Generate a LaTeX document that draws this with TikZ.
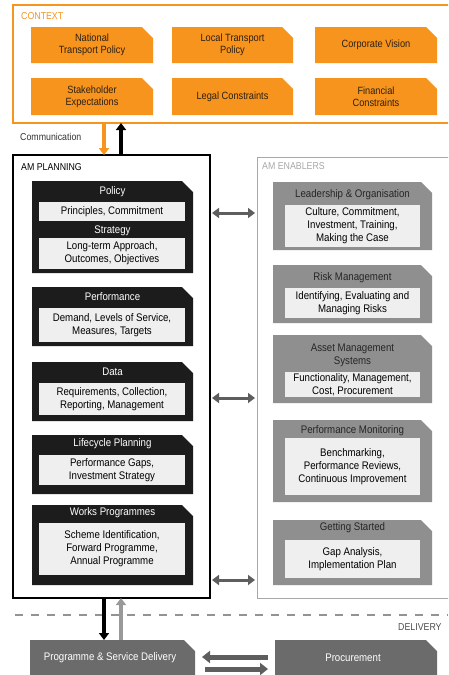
\documentclass[tikz,border=0pt]{standalone}
\usepackage{fontspec}
\setmainfont{Liberation Sans}[FakeStretch=0.88]
\usetikzlibrary{arrows.meta,calc}
\definecolor{org}{HTML}{F7941D}
\definecolor{orgtxt}{HTML}{2E2012}
\definecolor{plblk}{HTML}{1C1C1C}
\definecolor{inbg}{HTML}{EFEFEF}
\definecolor{enblk}{HTML}{8F8F8F}
\definecolor{enframe}{HTML}{A8A8A8}
\definecolor{dlblk}{HTML}{6B6B6B}
\definecolor{arrg}{HTML}{5E5E5E}
\newcommand\cutblk[6]{%
  \node[inner sep=0,outer sep=0,anchor=north west,minimum width={#4-#2},minimum height={#5-#3}] (#1) at (#2,#3) {};
  \fill[#6] (#1.north west) -- ([xshift=-11pt]#1.north east) -- ([yshift=-11pt]#1.north east) -- (#1.south east) -- (#1.south west) -- cycle;}
\begin{document}
\begin{tikzpicture}[x=1pt,y=-1pt,
  body/.style={font=\fontsize{11}{13}\selectfont,align=center,inner sep=0},
  ctxt/.style={font=\fontsize{10.5}{12}\selectfont,align=center,inner sep=0,text=orgtxt},
  lbl/.style={font=\fontsize{10}{12}\selectfont,inner sep=0,anchor=west},
  inbox/.style={body,fill=inbg,anchor=north west,outer sep=0},
  frm/.style={inner sep=0,outer sep=0,anchor=north west},
  thick arrow/.style={line width=3.5pt,-{Triangle[width=10pt,length=7pt]}},
  dblarr/.style={line width=3pt,arrg,{Triangle[width=10pt,length=7pt]}-{Triangle[width=10pt,length=7pt]}},
  fatarr/.style={line width=5pt,arrg,-{Triangle[width=12pt,length=8pt]}},
  sepline/.style={line width=2pt,color=gray!85,dash pattern=on 8pt off 8pt}]
\useasboundingbox (0,0) rectangle (448,675);
\clip (0,0) rectangle (448,675);
\fill[white] (0,0) rectangle (448,675);

% ---------- CONTEXT ----------
\node[frm,draw=org,line width=1.6pt,minimum width=460,minimum height=118] (ctx) at (13,5) {};
\node[lbl,text=org] (ctxl) at (21,16) {CONTEXT};
\cutblk{c1}{31}{27}{153}{63}{org}
\cutblk{c2}{172}{27}{293}{63}{org}
\cutblk{c3}{315}{27}{437}{63}{org}
\cutblk{c4}{31}{78}{153}{115}{org}
\cutblk{c5}{172}{78}{293}{115}{org}
\cutblk{c6}{315}{78}{437}{115}{org}
\node[ctxt] (c1t) at (c1) {National\\Transport Policy};
\node[ctxt] (c2t) at (c2) {Local Transport\\Policy};
\node[ctxt] (c3t) at (c3) {Corporate Vision};
\node[ctxt] (c4t) at (c4) {Stakeholder\\Expectations};
\node[ctxt] (c5t) at (c5) {Legal Constraints};
\node[ctxt] (c6t) at (c6) {Financial\\Constraints};

\node[lbl,text=black!80] (comm) at (20,137) {Communication};

% ---------- AM PLANNING ----------
\node[frm,draw=black,line width=2pt,minimum width=197,minimum height=443] (plan) at (13,155) {};
\node[lbl,text=black] (planl) at (21,167) {AM PLANNING};

\cutblk{pol}{32}{181}{193}{273}{plblk}
\node[body,text=white] (polt) at (112.5,192) {Policy};
\node[inbox,minimum width=146,minimum height=19] (poli) at (39,202) {Principles, Commitment};
\node[body,text=white] (strt) at (112.5,231) {Strategy};
\node[inbox,minimum width=146,minimum height=31] (stri) at (39,238) {Long-term Approach,\\Outcomes, Objectives};

\cutblk{perf}{32}{287}{193}{346}{plblk}
\node[body,text=white] (perft) at (112.5,297) {Performance};
\node[inbox,minimum width=146,minimum height=34] (perfi) at (39,308) {Demand, Levels of Service,\\Measures, Targets};

\cutblk{data}{32}{362}{193}{421}{plblk}
\node[body,text=white] (datat) at (112.5,372) {Data};
\node[inbox,minimum width=146,minimum height=32] (datai) at (39,383) {Requirements, Collection,\\Reporting, Management};

\cutblk{life}{32}{435}{193}{494}{plblk}
\node[body,text=white] (lifet) at (112.5,444) {Lifecycle Planning};
\node[inbox,minimum width=146,minimum height=30] (lifei) at (39,455) {Performance Gaps,\\Investment Strategy};

\cutblk{works}{32}{505}{193}{585}{plblk}
\node[body,text=white] (workst) at (112.5,513) {Works Programmes};
\node[inbox,minimum width=146,minimum height=52] (worksi) at (39,523) {Scheme Identification,\\Forward Programme,\\Annual Programme};

% ---------- AM ENABLERS ----------
\node[frm,draw=enframe,line width=1pt,minimum width=210,minimum height=441] (en) at (257,157) {};
\node[lbl,text=enframe] (enl) at (262,166) {AM ENABLERS};

\cutblk{lead}{273}{182}{432}{250}{enblk}
\node[body,text=black!85] (leadt) at (352.5,195) {Leadership \& Organisation};
\node[inbox,minimum width=135,minimum height=42] (leadi) at (285,205) {Culture, Commitment,\\Investment, Training,\\Making the Case};

\cutblk{risk}{273}{265}{432}{323}{enblk}
\node[body,text=black!85] (riskt) at (352.5,278) {Risk Management};
\node[inbox,minimum width=135,minimum height=30] (riski) at (285,288) {Identifying, Evaluating and\\Managing Risks};

\cutblk{ams}{273}{335}{432}{403}{enblk}
\node[body,text=black!85] (amst) at (352.5,355) {Asset Management\\Systems};
\node[inbox,minimum width=135,minimum height=25] (amsi) at (285,372) {Functionality, Management,\\Cost, Procurement};

\cutblk{pm}{273}{420}{432}{502}{enblk}
\node[body,text=black!85] (pmt) at (352.5,431) {Performance Monitoring};
\node[inbox,minimum width=135,minimum height=57] (pmi) at (285,438) {Benchmarking,\\Performance Reviews,\\Continuous Improvement};

\cutblk{gs}{273}{520}{432}{585}{enblk}
\node[body,text=black!85] (gst) at (352.5,528) {Getting Started};
\node[inbox,minimum width=135,minimum height=38] (gsi) at (285,540) {Gap Analysis,\\Implementation Plan};

% ---------- DELIVERY ----------
\draw[sepline] (15,615) -- (448,615);
\node[lbl,text=black!70] (dell) at (398,627) {DELIVERY};

\cutblk{prog}{30}{640}{195}{700}{dlblk}
\cutblk{proc}{275}{640}{437}{700}{dlblk}
\node[body,text=white] (progt) at (110,658) {Programme \& Service Delivery};
\node[body,text=white] (proct) at (353,658) {Procurement};

% ---------- connectors ----------
\coordinate (xa) at (104,0);
\coordinate (xb) at (121,0);
\coordinate (ya) at (0,213);
\coordinate (yb) at (0,398);
\coordinate (yc) at (0,580);
\coordinate (yd) at (0,657);
\coordinate (ye) at (0,669);

\draw[thick arrow,org] (ctx.south -| xa) -- (plan.north -| xa);
\draw[thick arrow,black] (plan.north -| xb) -- (ctx.south -| xb);

\draw[dblarr,shorten <=2pt,shorten >=2pt] (plan.east |- ya) -- (en.west |- ya);
\draw[dblarr,shorten <=2pt,shorten >=2pt] (plan.east |- yb) -- (en.west |- yb);
\draw[dblarr,shorten <=2pt,shorten >=2pt] (plan.east |- yc) -- (en.west |- yc);

\draw[thick arrow,black] (plan.south -| xa) -- (prog.north -| xa);
\draw[thick arrow,gray!80] (prog.north -| xb) -- (plan.south -| xb);

\draw[fatarr,shorten <=7pt,shorten >=7pt] (proc.west |- yd) -- (prog.east |- yd);
\draw[fatarr,shorten <=10pt,shorten >=7pt] (prog.east |- ye) -- (proc.west |- ye);
\end{tikzpicture}
\end{document}
